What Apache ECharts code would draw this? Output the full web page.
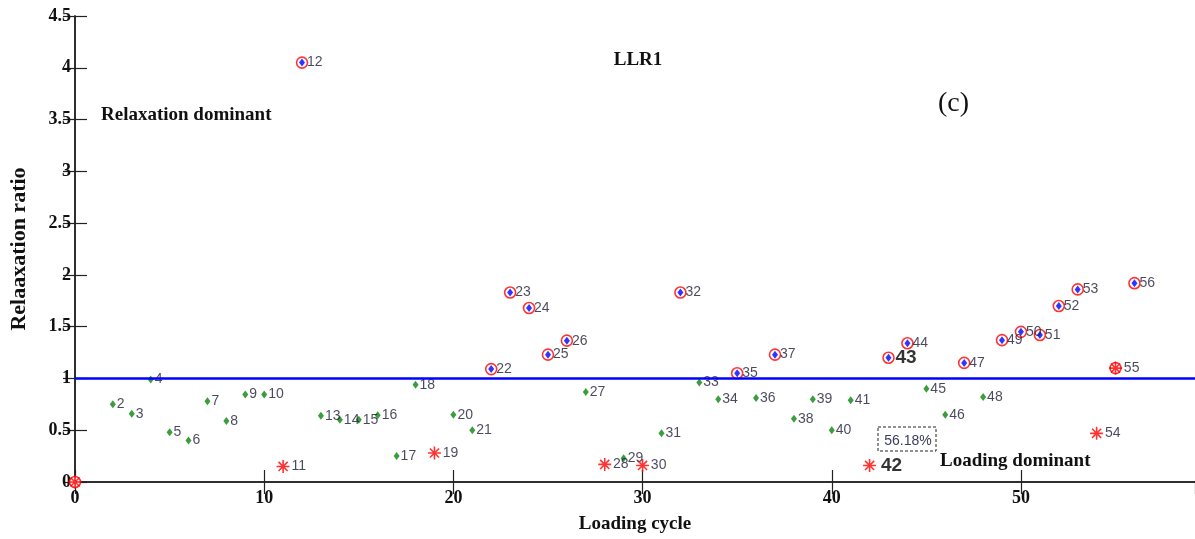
<!DOCTYPE html>
<html>
<head>
<meta charset="utf-8">
<script src="https://cdn.jsdelivr.net/npm/echarts@6/dist/echarts.min.js"></script>
<style>html,body{margin:0;padding:0;background:#fff;}#c{width:1195px;height:539px;}</style>
</head>
<body>
<div id="c"></div>
<script>
// Loading cycle number of each point
var cycles = [0, 2, 3, 4, 5, 6, 7, 8, 9, 10, 11, 12, 13, 14, 15, 16, 17, 18, 19, 20,
  21, 22, 23, 24, 25, 26, 27, 28, 29, 30, 31, 32, 33, 34, 35, 36, 37, 38, 39, 40,
  41, 42, 43, 44, 45, 46, 47, 48, 49, 50, 51, 52, 53, 54, 55, 56];
// Relaxation ratio of each point
var ratios = [0, 0.75, 0.66, 0.99, 0.48, 0.40, 0.78, 0.59, 0.845, 0.845, 0.15, 4.05, 0.64, 0.60, 0.60, 0.645, 0.25, 0.94, 0.28, 0.65,
  0.50, 1.09, 1.83, 1.68, 1.23, 1.365, 0.87, 0.17, 0.23, 0.16, 0.47, 1.83, 0.96, 0.80, 1.05, 0.81, 1.23, 0.61, 0.80, 0.50,
  0.79, 0.16, 1.20, 1.34, 0.90, 0.65, 1.15, 0.82, 1.37, 1.45, 1.42, 1.70, 1.86, 0.47, 1.10, 1.92];
// Marker group: g = green diamond, s = red asterisk, b = blue diamond in red circle, sc = asterisk in red circle
var groups = ['sc', 'g', 'g', 'g', 'g', 'g', 'g', 'g', 'g', 'g', 's', 'b', 'g', 'g', 'g', 'g', 'g', 'g', 's', 'g',
  'g', 'b', 'b', 'b', 'b', 'b', 'g', 's', 'g', 's', 'g', 'b', 'g', 'g', 'b', 'g', 'b', 'g', 'g', 'g',
  'g', 's', 'b', 'b', 'g', 'g', 'b', 'g', 'b', 'b', 'b', 'b', 'b', 's', 'sc', 'b'];
var highlighted = [42, 43];   // bold labels
var unlabeled = [0];
var xTicks = [0, 10, 20, 30, 40, 50];
var yTicks = [0, 0.5, 1, 1.5, 2, 2.5, 3, 3.5, 4, 4.5];
var threshold = 1;

function pick(kinds, withLabel) {
  var out = [];
  for (var i = 0; i < cycles.length; i++) {
    if (kinds.indexOf(groups[i]) < 0) continue;
    var item = { value: [cycles[i], ratios[i]] };
    if (withLabel) {
      if (unlabeled.indexOf(cycles[i]) >= 0) item.label = { show: false };
      else if (highlighted.indexOf(cycles[i]) >= 0) item.label = { fontSize: 19, fontWeight: 'bold', color: '#000', distance: 4 };
    }
    out.push(item);
  }
  return out;
}

var labelStyle = {
  show: true, position: 'right', distance: 1,
  fontFamily: 'Liberation Sans, Arial, sans-serif', fontSize: 14, color: '#1c1c34',
  formatter: function (p) { return String(p.value[0]); }
};
var serifBold = { fontFamily: 'Liberation Serif, Times New Roman, serif', fontWeight: 'bold', color: '#111' };
var starPath = 'path://M10 0L10 20M0 10L20 10M3 3L17 17M17 3L3 17';

var chart = echarts.init(document.getElementById('c'), null, { renderer: 'canvas' });
chart.setOption({
  animation: false,
  backgroundColor: '#fff',
  grid: { left: 74, top: 16, width: 1127, height: 467, containLabel: false },
  xAxis: [{
    type: 'value', min: 0, max: 59.2, interval: 10, position: 'bottom',
    axisLine: { show: true, lineStyle: { color: '#222', width: 1.5 } },
    axisTick: { show: true, inside: true, length: 12, lineStyle: { color: '#222', width: 1.2 } },
    axisLabel: Object.assign({ fontSize: 18, margin: 7, showMaxLabel: false,
      formatter: function (v) { return xTicks.indexOf(v) >= 0 ? String(v) : ''; } }, serifBold),
    splitLine: { show: false },
    name: 'Loading cycle', nameLocation: 'middle', nameGap: 33,
    nameTextStyle: Object.assign({ fontSize: 19 }, serifBold)
  }, {
    type: 'value', min: 0, max: 59.2, interval: 10, position: 'top',
    axisLine: { show: true, lineStyle: { color: '#222', width: 1.5 } },
    axisTick: { show: true, inside: true, length: 12, lineStyle: { color: '#222', width: 1.2 } },
    axisLabel: { show: false }, splitLine: { show: false }
  }],
  yAxis: [{
    type: 'value', min: 0, max: 4.5, interval: 0.5, position: 'left',
    axisLine: { show: true, lineStyle: { color: '#222', width: 1.5 } },
    axisTick: { show: true, inside: true, length: 12, lineStyle: { color: '#222', width: 1.2 } },
    axisLabel: Object.assign({ fontSize: 18, margin: 4,
      formatter: function (v) { return yTicks.indexOf(v) >= 0 ? String(v) : ''; } }, serifBold),
    splitLine: { show: false },
    name: 'Relaaxation ratio', nameLocation: 'middle', nameGap: 45,
    nameTextStyle: Object.assign({ fontSize: 22 }, serifBold)
  }, {
    type: 'value', min: 0, max: 4.5, interval: 0.5, position: 'right',
    axisLine: { show: true, lineStyle: { color: '#222', width: 1.5 } },
    axisTick: { show: true, inside: true, length: 12, lineStyle: { color: '#222', width: 1.2 } },
    axisLabel: { show: false }, splitLine: { show: false }
  }],
  series: [{
    name: 'threshold', type: 'line', data: [], z: 1,
    markLine: {
      silent: true, symbol: 'none', label: { show: false },
      lineStyle: { color: '#0000ff', width: 2.5, type: 'solid' },
      data: [{ yAxis: threshold }]
    }
  }, {
    name: 'below', type: 'scatter', clip: false, z: 3,
    symbol: 'diamond', symbolSize: [6, 8],
    itemStyle: { color: '#0a840a' },
    label: labelStyle,
    data: pick(['g'], true)
  }, {
    name: 'circle', type: 'scatter', clip: false, z: 3,
    symbol: 'circle', symbolSize: 11,
    itemStyle: { color: '#ffffff', borderColor: '#ff0000', borderWidth: 1.6 },
    data: pick(['b', 'sc'], false)
  }, {
    name: 'above', type: 'scatter', clip: false, z: 4,
    symbol: 'diamond', symbolSize: [6, 8],
    itemStyle: { color: '#0000ff' },
    label: Object.assign({}, labelStyle, { distance: 2 }),
    data: pick(['b'], true)
  }, {
    name: 'low', type: 'scatter', clip: false, z: 5,
    symbol: starPath, symbolSize: 13,
    itemStyle: { color: 'rgba(0,0,0,0)', borderColor: '#ff0000', borderWidth: 1.6 },
    label: Object.assign({}, labelStyle, { distance: 1 }),
    data: pick(['s', 'sc'], true)
  }],
  graphic: [
    { type: 'text', x: 638, y: 60, style: { text: 'LLR1', fontSize: 19, fontFamily: serifBold.fontFamily, fontWeight: 'bold', fill: '#111', align: 'center', verticalAlign: 'middle' } },
    { type: 'text', x: 101, y: 115, style: { text: 'Relaxation dominant', fontSize: 19, fontFamily: serifBold.fontFamily, fontWeight: 'bold', fill: '#111', align: 'left', verticalAlign: 'middle' } },
    { type: 'text', x: 938, y: 104, style: { text: '(c)', fontSize: 28, fontFamily: serifBold.fontFamily, fill: '#111', align: 'left', verticalAlign: 'middle' } },
    { type: 'text', x: 940, y: 461, style: { text: 'Loading dominant', fontSize: 19, fontFamily: serifBold.fontFamily, fontWeight: 'bold', fill: '#111', align: 'left', verticalAlign: 'middle' } },
    { type: 'rect', shape: { x: 878, y: 427, width: 58, height: 24 }, style: { fill: 'none', stroke: '#222', lineWidth: 1, lineDash: [3, 2] } },
    { type: 'text', x: 908, y: 441, style: { text: '56.18%', fontSize: 14, fontFamily: 'Liberation Sans, Arial, sans-serif', fill: '#3c3c5a', align: 'center', verticalAlign: 'middle' } }
  ]
});
</script>
</body>
</html>
